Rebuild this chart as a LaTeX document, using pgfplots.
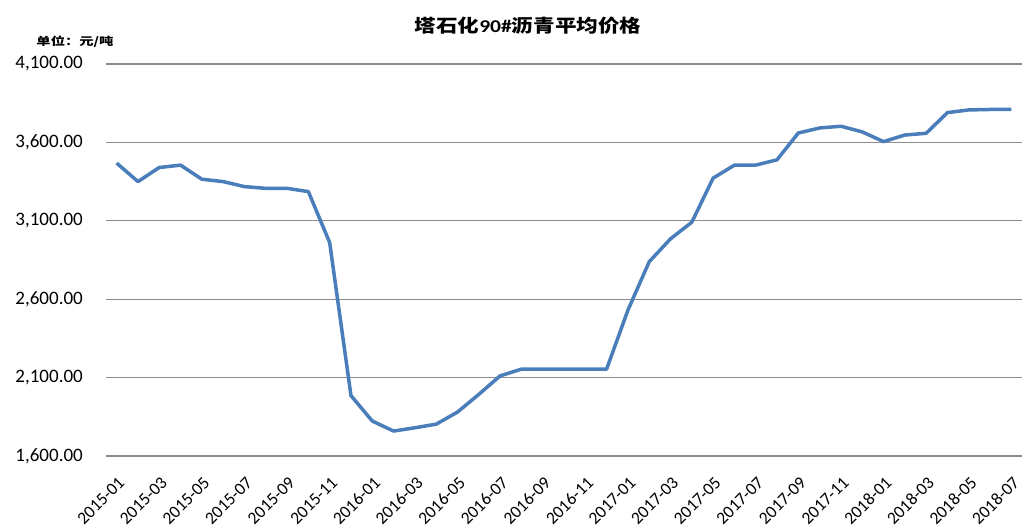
\documentclass[border=0pt]{standalone}
\usepackage{fontspec}
\setmainfont{Carlito}
\newfontfamily\cjk{Noto Sans CJK SC}
\usepackage{pgfplots}
\pgfplotsset{compat=1.18}
\definecolor{linecol}{HTML}{4A7EBB}
\definecolor{gridcol}{HTML}{8C8C8C}
\begin{document}
\begin{tikzpicture}
\begin{axis}[
  at={(106bp,74bp)}, anchor=south west,
  scale only axis, width=916bp, height=392bp,
  xmin=-0.5, xmax=42.5, ymin=1600, ymax=4100,
  ytick={1600,2100,2600,3100,3600,4100},
  xtick={0,2,...,42},
  xticklabels={2015-01,2015-03,2015-05,2015-07,2015-09,2015-11,2016-01,2016-03,2016-05,2016-07,2016-09,2016-11,2017-01,2017-03,2017-05,2017-07,2017-09,2017-11,2018-01,2018-03,2018-05,2018-07},
  ymajorgrids, grid style={gridcol, line width=1.3bp},
  axis line style={draw=none}, major tick style={draw=none},
  yticklabel style={font=\fontsize{19bp}{21bp}\selectfont, inner sep=0pt, anchor=east, xshift=-23bp},
  xticklabel style={font=\fontsize{17.5bp}{19bp}\selectfont, inner sep=0pt, xshift=5bp, yshift=-24bp, rotate=45, anchor=east},
  /pgf/number format/assume math mode=true,
  yticklabel={\pgfmathprintnumber[fixed, fixed zerofill, precision=2, 1000 sep={,}]{\tick}},
  clip=false,
]
\addplot[linecol, line width=3.5bp, line join=round] coordinates {
(0,3468) (1,3350) (2,3440) (3,3455) (4,3365) (5,3350) (6,3318) (7,3307) (8,3307) (9,3286)
(10,2961) (11,1985) (12,1823) (13,1759) (14,1780) (15,1803) (16,1880) (17,1993) (18,2111) (19,2154)
(20,2154) (21,2154) (22,2154) (23,2154) (24,2530) (25,2839) (26,2985) (27,3091) (28,3372) (29,3455)
(30,3455) (31,3489) (32,3660) (33,3692) (34,3703) (35,3667) (36,3605) (37,3647) (38,3658) (39,3790)
(40,3807) (41,3810) (42,3810)
};
\end{axis}
\node[xscale=1.2] at (528bp,504bp) {\fontsize{18bp}{20bp}\selectfont\cjk\bfseries 塔石化{\rmfamily\bfseries 90\#}沥青平均价格};
\node[xscale=1.3] at (75bp,488bp) {\fontsize{11bp}{12bp}\selectfont\cjk\bfseries 单位：元/吨};
\pgfresetboundingbox
\path[use as bounding box] (0,0) rectangle (1025bp,530bp);
\end{tikzpicture}
\end{document}
